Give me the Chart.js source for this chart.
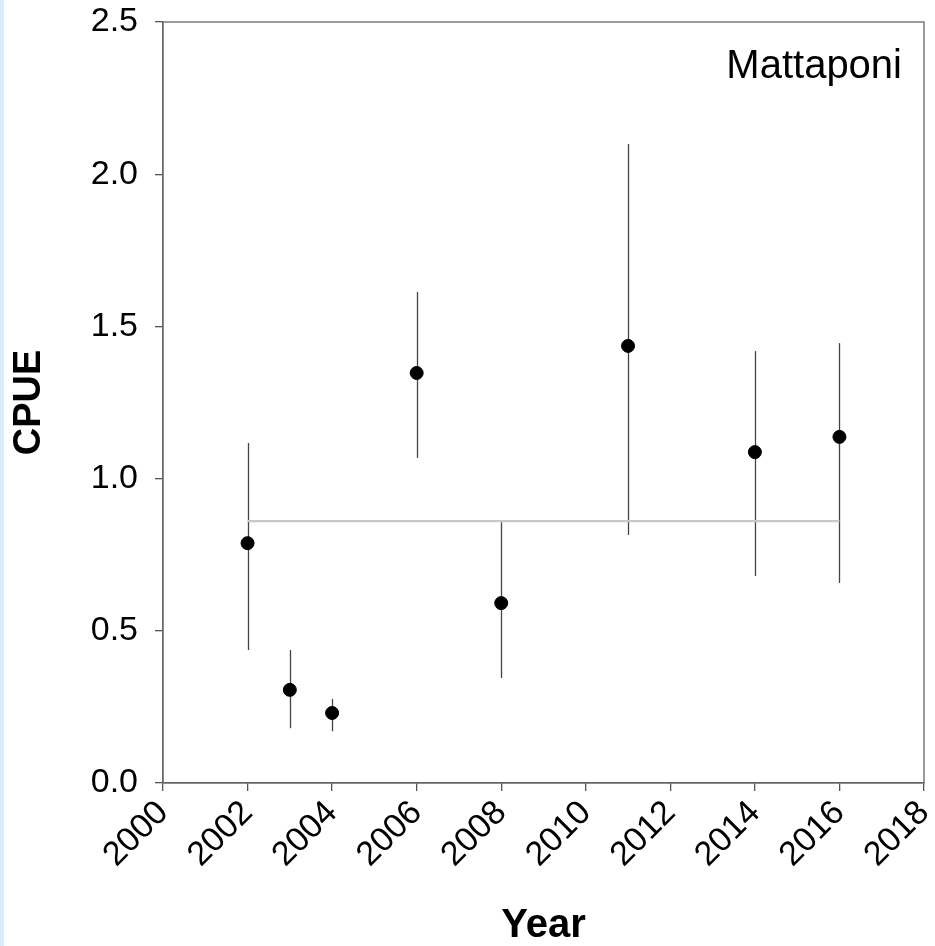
<!DOCTYPE html>
<html>
<head>
<meta charset="utf-8">
<script src="https://cdn.jsdelivr.net/npm/chart.js@4.4.1/dist/chart.umd.min.js"></script>
<style>
  html, body { margin: 0; padding: 0; background: #fff; }
  #wrap { position: relative; width: 935px; height: 946px; }
  #strip { position: absolute; left: 0; top: 0; width: 4px; height: 946px; background: #d8eefa; }
</style>
</head>
<body>
<div id="wrap">
  <canvas id="cpueChart" width="935" height="946"></canvas>
  <div id="strip"></div>
</div>
<script>
const years = [2002, 2003, 2004, 2006, 2008, 2011, 2014, 2016];
const cpue = [0.788, 0.306, 0.230, 1.347, 0.591, 1.436, 1.087, 1.137];
const upper = [1.117, 0.437, 0.276, 1.613, 0.857, 2.099, 1.419, 1.445];
const lower = [0.437, 0.180, 0.170, 1.068, 0.345, 0.815, 0.680, 0.657];
const meanCpue = 0.86;
const meanSpan = [2002, 2016];
const riverName = "Mattaponi";

const FONT = "'Liberation Sans', Arial, sans-serif";

const errorBars = {
    id: "errorBars",
    beforeDatasetsDraw(chart) {
        const { ctx, scales: { x, y } } = chart;
        ctx.save();
        ctx.strokeStyle = "#444";
        ctx.lineWidth = 1.3;
        years.forEach((yr, i) => {
            const px = Math.round(x.getPixelForValue(yr)) + 0.5;
            ctx.beginPath();
            ctx.moveTo(px, y.getPixelForValue(upper[i]));
            ctx.lineTo(px, y.getPixelForValue(lower[i]));
            ctx.stroke();
        });
        ctx.restore();
    },
};

const frame = {
    id: "frame",
    afterDraw(chart) {
        const { ctx, chartArea: a } = chart;
        ctx.save();
        ctx.strokeStyle = "#666";
        ctx.lineWidth = 1.3;
        ctx.strokeRect(a.left, a.top, a.right - a.left, a.bottom - a.top);
        ctx.fillStyle = "#000";
        ctx.font = "40px " + FONT;
        ctx.textAlign = "right";
        ctx.textBaseline = "alphabetic";
        ctx.fillText(riverName, a.right - 22, a.top + 56);
        ctx.restore();
    },
};

new Chart(document.getElementById("cpueChart").getContext("2d"), {
    type: "scatter",
    data: {
        datasets: [
            {
                type: "line",
                label: "mean",
                data: meanSpan.map((yr) => ({ x: yr, y: meanCpue })),
                borderColor: "#c8c8c8",
                borderWidth: 2.2,
                pointRadius: 0,
                order: 2,
            },
            {
                label: "CPUE",
                data: years.map((yr, i) => ({ x: yr, y: cpue[i] })),
                backgroundColor: "#000",
                borderColor: "#000",
                pointRadius: 6.5,
                order: 1,
            },
        ],
    },
    options: {
        responsive: false,
        animation: false,
        layout: { padding: { top: 22, right: 11, left: 0, bottom: 0 } },
        plugins: { legend: { display: false }, tooltip: { enabled: false } },
        scales: {
            x: {
                type: "linear",
                min: 2000,
                max: 2018,
                afterFit: (s) => {
                    s.height = 163;
                    s.paddingLeft = 0;
                    s.paddingRight = 0;
                },
                grid: { drawOnChartArea: false, tickLength: 8, color: "#555", lineWidth: 1.3 },
                border: { color: "#666", width: 1.3 },
                ticks: {
                    stepSize: 2,
                    minRotation: 45,
                    maxRotation: 45,
                    padding: 2,
                    color: "#000",
                    font: { family: FONT, size: 34 },
                    callback: (v) => String(v),
                },
                title: {
                    display: true,
                    text: "Year",
                    color: "#000",
                    font: { family: FONT, size: 40, weight: "bold", lineHeight: 1 },
                    padding: { top: 0, bottom: 0 },
                },
            },
            y: {
                min: 0,
                max: 2.5,
                afterFit: (s) => {
                    s.width = 163;
                    s.paddingTop = 0;
                    s.paddingBottom = 0;
                },
                grid: { drawOnChartArea: false, tickLength: 8, color: "#555", lineWidth: 1.3 },
                border: { color: "#666", width: 1.3 },
                ticks: {
                    stepSize: 0.5,
                    padding: 17,
                    color: "#000",
                    font: { family: FONT, size: 34 },
                    callback: (v) => v.toFixed(1),
                },
                title: {
                    display: true,
                    text: "CPUE",
                    color: "#000",
                    font: { family: FONT, size: 38, weight: "bold", lineHeight: 1 },
                    padding: { top: 11, bottom: 0 },
                },
            },
        },
    },
    plugins: [errorBars, frame],
});
</script>
</body>
</html>
